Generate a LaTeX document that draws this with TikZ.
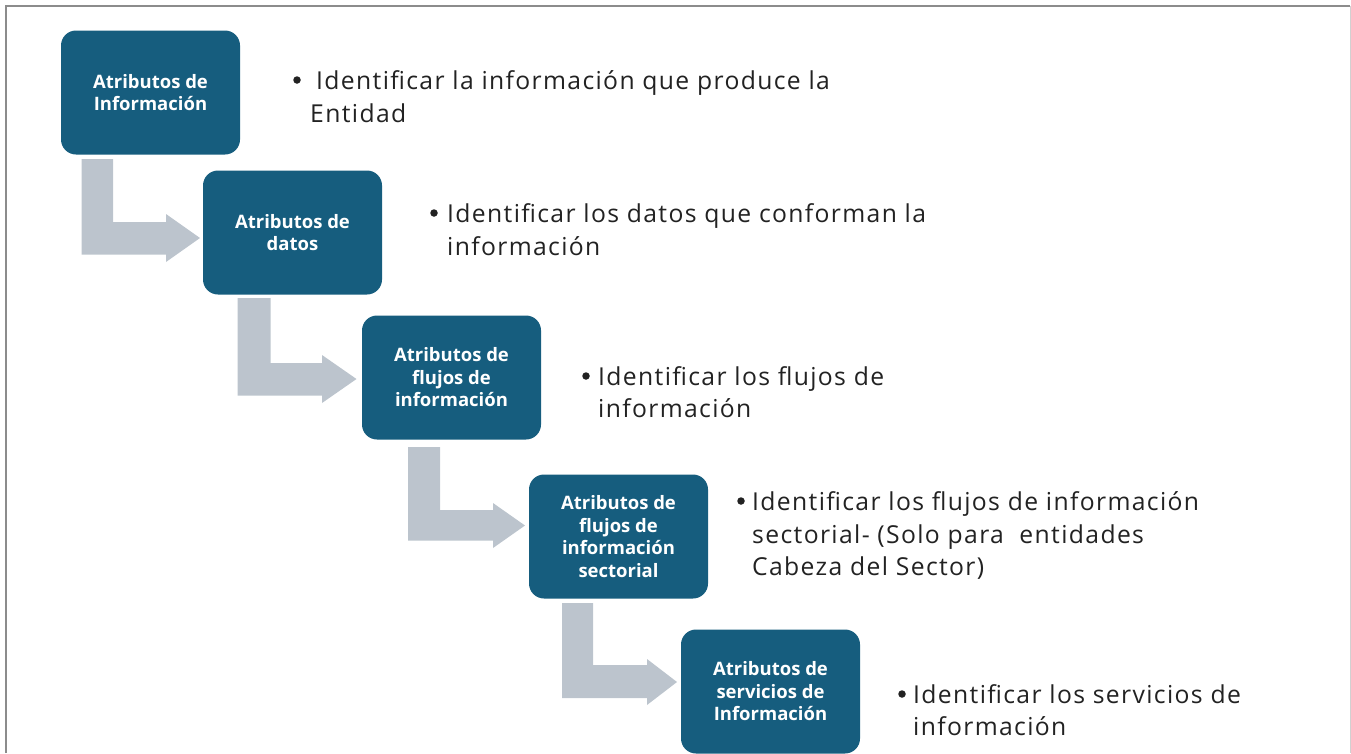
\documentclass[tikz,border=0pt]{standalone}
\usepackage{fontspec}
\setmainfont{Open Sans}
\newfontfamily\bodyfont[LetterSpace=5.5]{Open Sans}
\definecolor{boxblue}{HTML}{165D7E}
\definecolor{arrowgray}{HTML}{BCC4CD}
\definecolor{framegray}{HTML}{8C8C8C}
\definecolor{txt}{HTML}{222222}
\tikzset{
  stepbox/.style={fill=boxblue, draw=none, rounded corners=15pt, minimum width=179pt, minimum height=124pt, inner sep=0pt, align=center, text=white, font=\bfseries\fontsize{18.5}{22.5}\selectfont},
  bendarrow/.style={fill=arrowgray, draw=none},
  bullettxt/.style={anchor=base west, inner sep=0pt, text=txt, font=\bodyfont\fontsize{24.7}{33}\selectfont},
  bulletdot/.style={circle, fill=txt, draw=none, minimum size=7.5pt, inner sep=0pt}
}
\begin{document}
\begin{tikzpicture}[x=1pt,y=-1pt]
\useasboundingbox (0,0) rectangle (1351,753);
% frame
\draw[framegray, line width=2pt] (6,753) -- (6,6) -- (1350,6);
\draw[framegray!40, line width=1pt] (1350,6) -- (1350,753);

% boxes
\node[stepbox] (b1) at (150.5,92.5) {Atributos de\\Información};
\node[stepbox] (b2) at (292.5,232.5) {Atributos de\\datos};
\node[stepbox] (b3) at (451.5,377.5) {Atributos de\\flujos de\\información};
\node[stepbox] (b4) at (618.5,536.5) {Atributos de\\flujos de\\información\\sectorial};
\node[stepbox] (b5) at (770.5,691.5) {Atributos de\\servicios de\\Información};

% bent arrows
\fill[bendarrow] (81.5,159) -- (113,159) -- (113,222) -- (166,222) -- (166,214) -- (200,238) -- (166,262) -- (166,254.5) -- (81.5,254.5) -- cycle;
\fill[bendarrow] (237.5,298) -- (270.5,298) -- (270.5,363) -- (322,363) -- (322,355) -- (356.5,379) -- (322,403) -- (322,395.5) -- (237.5,395.5) -- cycle;
\fill[bendarrow] (408,447) -- (440,447) -- (440,510) -- (493,510) -- (493,503) -- (525,525.5) -- (493,548) -- (493,540.5) -- (408,540.5) -- cycle;
\fill[bendarrow] (562,603) -- (593,603) -- (593,665) -- (647,665) -- (647,659) -- (677,682) -- (647,705) -- (647,698) -- (562,698) -- cycle;

% texts
\node[bulletdot] (d1) at (297,80) {};
\node[bullettxt] (t1a) at (316,89) {Identificar la información que produce la};
\node[bullettxt] (t1b) at (310,122) {Entidad};

\node[bulletdot] (d2) at (434,213) {};
\node[bullettxt] (t2a) at (447,222) {Identificar los datos que conforman la};
\node[bullettxt] (t2b) at (447,255) {información};

\node[bulletdot] (d3) at (586,376) {};
\node[bullettxt] (t3a) at (598,385) {Identificar los flujos de};
\node[bullettxt] (t3b) at (598,417) {información};

\node[bulletdot] (d4) at (741,501) {};
\node[bullettxt] (t4a) at (752,510) {Identificar los flujos de información};
\node[bullettxt] (t4b) at (752,543) {sectorial- (Solo para\ \ entidades};
\node[bullettxt] (t4c) at (752,575) {Cabeza del Sector)};

\node[bulletdot] (d5) at (902,694) {};
\node[bullettxt] (t5a) at (913,703) {Identificar los servicios de};
\node[bullettxt] (t5b) at (913,735) {información};
\end{tikzpicture}
\end{document}
